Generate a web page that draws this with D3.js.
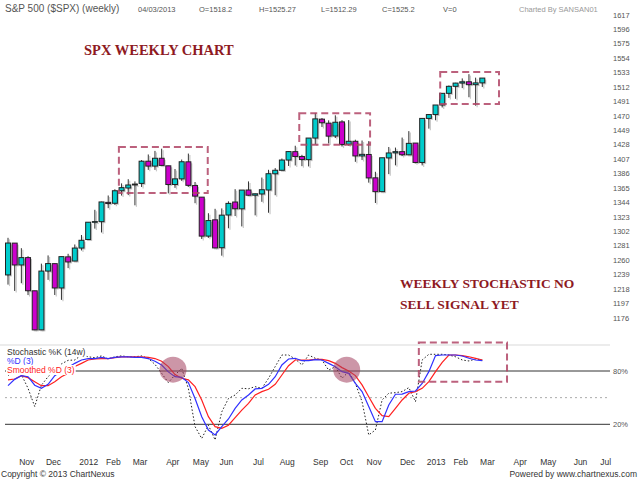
<!DOCTYPE html>
<html>
<head>
<meta charset="utf-8">
<script src="https://cdn.jsdelivr.net/npm/d3@7"></script>
<style>
  body { margin: 0; background: #fff; }
  svg { display: block; font-family: "Liberation Sans", Arial, sans-serif; }
</style>
</head>
<body>
<svg id="chart" width="640" height="480"></svg>
<script>
// weekly candles, week of 24 Oct 2011 .. week of 4 Mar 2013
const opens = [1238.7,1285.0,1253.2,1263.9,1215.6,1158.7,1244.3,1255.1,1219.7,1265.0,
  1258.9,1277.8,1290.2,1315.3,1316.2,1344.3,1343.0,1361.2,1365.2,1369.6,
  1371.9,1404.2,1397.1,1408.5,1397.5,1370.3,1378.5,1403.3,1368.8,1351.9,
  1295.2,1318.9,1278.3,1325.9,1344.8,1334.9,1362.3,1354.7,1356.5,1362.3,
  1385.9,1391.0,1405.9,1418.1,1411.1,1406.5,1437.9,1465.4,1459.5,1440.9,
  1461.4,1428.8,1433.2,1411.9,1414.0,1380.0,1359.9,1409.0,1416.3,1418.1,
  1413.5,1430.6,1402.4,1466.5,1472.1,1486.0,1503.0,1513.2,1517.9,1519.8,
  1515.6,1518.2];
const highs = [1292.7,1285.0,1277.6,1266.0,1215.6,1255.1,1267.1,1255.2,1265.4,1269.4,
  1283.0,1296.8,1315.5,1333.5,1345.3,1354.3,1363.4,1371.9,1378.0,1374.8,
  1405.9,1414.0,1419.2,1422.4,1397.5,1392.8,1406.6,1415.3,1373.9,1351.9,
  1328.5,1334.9,1335.5,1345.8,1363.5,1362.2,1374.8,1357.0,1380.4,1391.7,
  1394.2,1408.1,1418.7,1426.7,1413.5,1437.9,1474.5,1467.1,1463.7,1471.0,
  1464.0,1464.0,1435.5,1434.3,1433.4,1388.8,1409.2,1424.9,1424.0,1438.6,
  1448.0,1430.7,1466.5,1472.8,1486.0,1503.3,1514.4,1518.3,1524.7,1530.9,
  1525.8,1525.3];
const lows = [1224.6,1215.4,1226.6,1209.4,1158.7,1158.7,1231.5,1209.5,1202.4,1248.6,
  1258.9,1274.3,1290.2,1306.1,1300.5,1335.9,1340.8,1354.2,1354.9,1340.0,
  1366.7,1391.6,1391.6,1397.7,1357.4,1365.4,1375.6,1367.0,1343.1,1291.0,
  1292.7,1277.8,1266.7,1306.6,1324.4,1309.3,1353.9,1325.4,1345.1,1329.2,
  1354.7,1391.0,1397.3,1398.0,1397.0,1396.6,1428.5,1454.0,1430.0,1438.0,
  1425.5,1426.9,1403.3,1405.9,1373.0,1343.4,1359.9,1385.4,1398.2,1411.9,
  1413.5,1401.4,1398.1,1451.6,1463.8,1482.4,1496.3,1495.0,1510.6,1497.3,
  1485.0,1512.3];
const closes = [1285.1,1253.2,1263.9,1215.7,1158.7,1244.3,1255.2,1219.7,1265.3,1257.6,
  1277.8,1289.1,1315.4,1316.3,1344.9,1342.6,1361.2,1365.7,1369.6,1370.9,
  1404.2,1397.1,1408.5,1398.1,1370.3,1378.5,1403.4,1369.1,1353.4,1295.2,
  1317.8,1278.0,1325.7,1342.8,1335.0,1362.2,1354.7,1356.8,1362.7,1386.0,
  1391.0,1405.9,1418.2,1411.1,1406.6,1437.9,1465.8,1460.2,1440.7,1460.9,
  1428.6,1433.2,1411.9,1414.2,1379.9,1359.9,1409.2,1416.2,1418.1,1413.6,
  1430.2,1402.4,1466.5,1472.1,1486.0,1503.0,1513.2,1517.9,1519.8,1515.6,
  1518.2,1525.2];

// stochastic
const stochK = [75,80,76,60.5,40,64,73.6,81,88,92, 92.4,98,96,95,97,93.5,96,97,96,96,
  97,94,87.5,77.4,67,75.5,83,60.5,17.4,4, 19,2.4,34,49,53,60.5,60,62.4,60.5,71.8,
  85,98,98,93.5,86.8,98,94.3,92.4,81,84.9, 71.8,79.3,66,45.5,8,13.6,47.4,55,55.6,56.8,
  61.3,45.5,92.4,98.8,98.8,98.8,98,96,92.4,91.3, 93.5,92.4];
const stochD = [63.5,70.6,74.7,73.6,64,60.5,65,74.7,80,84, 88.6,92.4,94,94,95.4,94,95.4,96,96,95.4,
  95.4,94,91,86.7,79,73.6,72.9,67,49,28.6, 13.6,8,17.4,26,38,47.4,53,59.8,60.5,65,
  73.6,86.8,93.5,94.3,91.6,91.6,92.8,92.4,88.6,84.9, 79.3,77.4,66,56.8,40,23,23,41.8,53.8,54,
  56.8,57.5,66,79.3,97.3,98,98,98,96.9,94.3, 92.4,91.6];
const stochSD = [70,71,74.7,72.5,68,63.5,63.5,68,73.6,77.4, 85,88.6,92.4,93.5,94,94,95,95.8,96,96,
  95.8,95.4,94,91,85,76,71.8,70,62.4,47.4, 28.6,17.4,15.5,19,27.5,36,43.6,53,56.8,59.4,
  65,75.5,86,92.4,92.4,92.4,93,93,91.6,88.6, 83.8,80,74.8,64.3,51,38,29.8,28.6,38,47.4,
  55,56.8,60.5,68,79.3,89.8,98,98,97.3,96, 94.3,92.4];

const priceTicks = [1176,1197,1218,1239,1260,1281,1302,1323,1344,1365,1386,1407,
  1428,1449,1470,1491,1512,1533,1554,1575,1596,1617];
const monthWeeks = [1,5,10,14,18,23,27,31,36,40,45,49,53,58,62,66,70,75,79,84,88];
const monthLabels = ["Nov","Dec","2012","Feb","Mar","Apr","May","Jun","Jul","Aug","Sep",
  "Oct","Nov","Dec","2013","Feb","Mar","Apr","May","Jun","Jul"];

// annotation boxes in data units: [week from, week to, high, low]
const priceBoxes = [[16.6, 29.9, 1425, 1358], [43.6, 54.2, 1474, 1428], [64.7, 73.5, 1534, 1487.5]];
const stochBox = [61.5, 74.7, 112, 68];
const stochCircles = [[24.7, 81.5], [50.7, 81.5]];

const svg = d3.select("#chart");

const x = d3.scaleLinear().domain([0, 71]).range([8, 482.3]);
const y = d3.scaleLinear().domain([1176, 1617]).range([318, 15]);
const ys = d3.scaleLinear().domain([20, 80]).range([424.3, 371]);

const upColor = "#00cccc";
const downColor = "#cc00cc";
const half = 2.5;

// header
const head = svg.append("g").attr("fill", "#555");
head.append("text").attr("x", 5).attr("y", 12).style("font-size", "10px").text("S&P 500 ($SPX) (weekly)");
[["04/03/2013", 138], ["O=1518.2", 199], ["H=1525.27", 259], ["L=1512.29", 321],
 ["C=1525.2", 382], ["V=0", 443]].forEach(([t, px]) => {
  head.append("text").attr("x", px).attr("y", 12).style("font-size", "7.5px").text(t);
});
head.append("text").attr("x", 519).attr("y", 12).attr("fill", "#999")
  .style("font-size", "7.5px").text("Charted By SANSAN01");

// price axis on the right
svg.append("g").selectAll("text").data(priceTicks).enter().append("text")
  .attr("x", 613).attr("y", (d) => y(d)).attr("dy", "0.35em")
  .attr("fill", "#555").style("font-size", "7.5px").text((d) => d);

// candles
const idx = d3.range(opens.length);
const shadow = svg.append("g").attr("transform", "translate(1.5,1.5)");
shadow.selectAll("line").data(idx).enter().append("line")
  .attr("x1", (i) => x(i)).attr("x2", (i) => x(i))
  .attr("y1", (i) => y(highs[i])).attr("y2", (i) => y(lows[i]))
  .attr("stroke", "#c8c8c8").attr("stroke-width", 1.2);
shadow.selectAll("rect").data(idx).enter().append("rect")
  .attr("x", (i) => x(i) - half).attr("width", half * 2)
  .attr("y", (i) => y(Math.max(opens[i], closes[i])))
  .attr("height", (i) => Math.max(1, Math.abs(y(opens[i]) - y(closes[i]))))
  .attr("fill", "#c8c8c8");

const candles = svg.append("g");
candles.selectAll("line").data(idx).enter().append("line")
  .attr("x1", (i) => x(i)).attr("x2", (i) => x(i))
  .attr("y1", (i) => y(highs[i])).attr("y2", (i) => y(lows[i]))
  .attr("stroke", "#333").attr("stroke-width", 1);
candles.selectAll("rect").data(idx).enter().append("rect")
  .attr("x", (i) => x(i) - half).attr("width", half * 2)
  .attr("y", (i) => y(Math.max(opens[i], closes[i])))
  .attr("height", (i) => Math.max(0.5, Math.abs(y(opens[i]) - y(closes[i]))))
  .attr("fill", (i) => (closes[i] >= opens[i] ? upColor : downColor))
  .attr("stroke", "#222").attr("stroke-width", 1);

// dashed boxes
const boxColor = "#b04566";
svg.append("g").selectAll("rect").data(priceBoxes).enter().append("rect")
  .attr("x", (d) => x(d[0])).attr("width", (d) => x(d[1]) - x(d[0]))
  .attr("y", (d) => y(d[2])).attr("height", (d) => y(d[3]) - y(d[2]))
  .attr("fill", "none").attr("stroke", boxColor).attr("stroke-width", 2)
  .attr("stroke-dasharray", "7,4").attr("opacity", 0.85);

// big notes
const note = svg.append("g").attr("fill", "#8e1a1f")
  .style("font-family", "'Liberation Serif', 'Times New Roman', serif")
  .style("font-weight", "bold");
note.append("text").attr("x", 84).attr("y", 55).style("font-size", "14.5px").text("SPX WEEKLY CHART");
note.append("text").attr("x", 400).attr("y", 288).style("font-size", "13.5px").text("WEEKLY STOCHASTIC NO");
note.append("text").attr("x", 400).attr("y", 309).style("font-size", "13.5px").text("SELL SIGNAL YET");

// stochastic panel
svg.append("line").attr("x1", 0).attr("x2", 610).attr("y1", 345).attr("y2", 345)
  .attr("stroke", "#ececec").attr("stroke-width", 2);
svg.append("line").attr("x1", 5).attr("x2", 610).attr("y1", ys(50)).attr("y2", ys(50))
  .attr("stroke", "#aaa").attr("stroke-dasharray", "2,3");
[80, 20].forEach((v) => {
  svg.append("line").attr("x1", 5).attr("x2", 610).attr("y1", ys(v)).attr("y2", ys(v))
    .attr("stroke", "#333").attr("stroke-width", 1);
  svg.append("text").attr("x", 613).attr("y", ys(v)).attr("dy", "0.35em")
    .attr("fill", "#555").style("font-size", "7.5px").text(v + "%");
});

const line = (arr) => d3.line().x((d, i) => x(i)).y((d) => ys(d))(arr);
svg.append("path").attr("d", line(stochK)).attr("fill", "none")
  .attr("stroke", "#222").attr("stroke-width", 1).attr("stroke-dasharray", "1.5,2");
svg.append("path").attr("d", line(stochSD)).attr("fill", "none")
  .attr("stroke", "#ff2020").attr("stroke-width", 1.2);
svg.append("path").attr("d", line(stochD)).attr("fill", "none")
  .attr("stroke", "#3030ff").attr("stroke-width", 1.2);

svg.append("g").selectAll("ellipse").data(stochCircles).enter().append("ellipse")
  .attr("cx", (d) => x(d[0])).attr("cy", (d) => ys(d[1]))
  .attr("rx", 13.5).attr("ry", 13)
  .attr("fill", "#a3405f").attr("opacity", 0.55);

svg.append("rect")
  .attr("x", x(stochBox[0])).attr("width", x(stochBox[1]) - x(stochBox[0]))
  .attr("y", ys(stochBox[2])).attr("height", ys(stochBox[3]) - ys(stochBox[2]))
  .attr("fill", "none").attr("stroke", boxColor).attr("stroke-width", 2)
  .attr("stroke-dasharray", "7,4").attr("opacity", 0.85);

// legend with white backing
const legend = svg.append("g");
[["Stochastic %K (14w)", "#333", 355], ["%D (3)", "#3030ff", 364], ["Smoothed %D (3)", "#ff2020", 373]]
  .forEach(([t, c, py]) => {
    const bg = legend.append("rect").attr("fill", "#fff");
    const tx = legend.append("text").attr("x", 7).attr("y", py).attr("fill", c)
      .style("font-size", "8.5px").text(t);
    const b = tx.node().getBBox();
    bg.attr("x", b.x - 1).attr("y", b.y).attr("width", b.width + 2).attr("height", b.height);
  });

// month axis
svg.append("g").selectAll("text").data(monthWeeks).enter().append("text")
  .attr("x", (d) => x(d) + 4.5).attr("y", 465)
  .attr("fill", "#333").style("font-size", "8.5px")
  .text((d, i) => monthLabels[i]);

// footer
svg.append("text").attr("x", 1).attr("y", 477).attr("fill", "#333")
  .style("font-size", "8.5px").text("Copyright \u00a9 2013 ChartNexus");
svg.append("text").attr("x", 637).attr("y", 477).attr("text-anchor", "end").attr("fill", "#333")
  .style("font-size", "8.5px").text("Powered by www.chartnexus.com");
</script>
</body>
</html>
